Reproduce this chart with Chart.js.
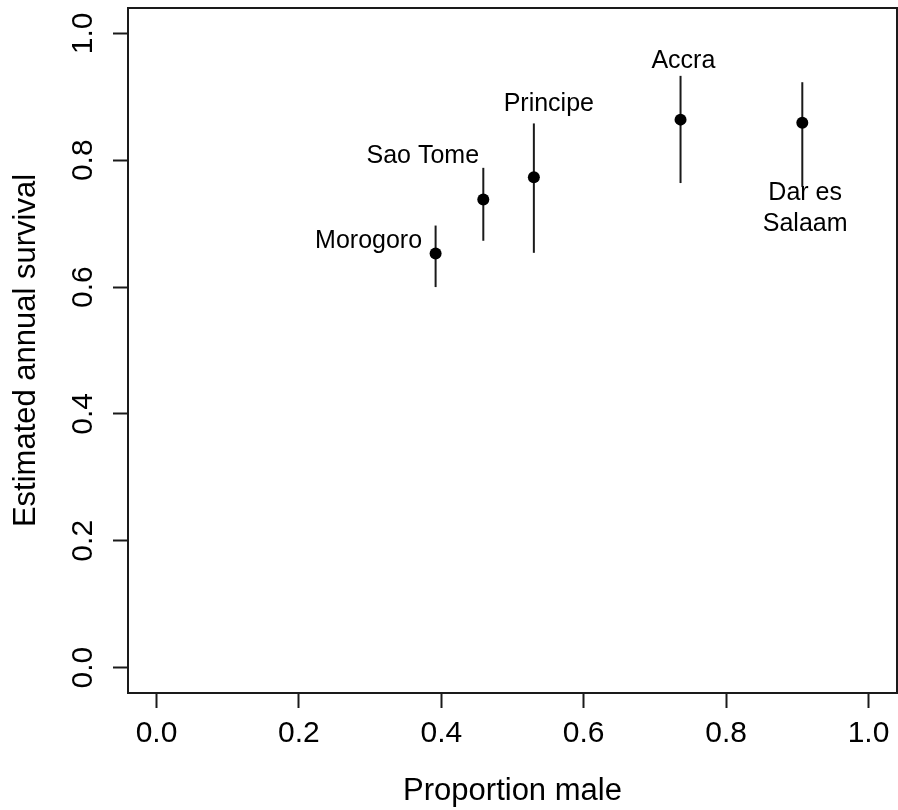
<!DOCTYPE html>
<html lang="en">
<head>
<meta charset="UTF-8">
<title>Survival vs proportion male</title>
<script src="https://cdn.jsdelivr.net/npm/chart.js"></script>
<style>
    body { margin: 0; background: #fff; }
    .chart-box { width: 898px; height: 810px; position: relative; }
</style>
</head>
<body>
<div class="chart-box">
    <canvas id="survivalChart"></canvas>
</div>
<script>
// data
const sites = ['Morogoro', 'Sao Tome', 'Principe', 'Accra', 'Dar es\nSalaam'];
const propMale = [0.392, 0.459, 0.530, 0.736, 0.907];
const survival = [0.653, 0.738, 0.773, 0.864, 0.859];
const survLow = [0.600, 0.673, 0.654, 0.764, 0.758];
const survHigh = [0.697, 0.788, 0.858, 0.933, 0.923];

// where each site name sits, in data units
const labelX = [0.373, 0.453, 0.551, 0.740, 0.911];
const labelY = [0.673, 0.807, 0.889, 0.957, 0.724];
const labelAlign = ['right', 'right', 'center', 'center', 'center'];

const xTicks = [0.0, 0.2, 0.4, 0.6, 0.8, 1.0];
const yTicks = [0.0, 0.2, 0.4, 0.6, 0.8, 1.0];

const FONT = '"Liberation Sans", Arial, Helvetica, sans-serif';
const INK = '#1a1a1a';

// one little line dataset per error bar
const errorBars = sites.map((s, i) => ({
    type: 'line',
    data: [{ x: propMale[i], y: survLow[i] }, { x: propMale[i], y: survHigh[i] }],
    borderColor: INK,
    borderWidth: 2,
    pointRadius: 0,
    showLine: true,
    order: 2
}));

const labelsAndFrame = {
    id: 'labelsAndFrame',
    afterDatasetsDraw(chart) {
        const ctx = chart.ctx;
        const a = chart.chartArea;
        const xs = chart.scales.x;
        const ys = chart.scales.y;
        ctx.save();

        // box round the plot, like R's box()
        ctx.strokeStyle = INK;
        ctx.lineWidth = 2;
        ctx.strokeRect(a.left, a.top, a.right - a.left, a.bottom - a.top);

        // site names
        ctx.fillStyle = '#000';
        ctx.font = '25px ' + FONT;
        ctx.textBaseline = 'middle';
        sites.forEach((name, i) => {
            const lines = name.split('\n');
            const lh = 30.6;
            const px = xs.getPixelForValue(labelX[i]);
            const py = ys.getPixelForValue(labelY[i]) - (lines.length - 1) * lh / 2;
            ctx.textAlign = labelAlign[i];
            lines.forEach((ln, j) => ctx.fillText(ln, px, py + j * lh));
        });

        // y tick labels, turned like R's las=0
        ctx.font = '30px ' + FONT;
        ctx.textAlign = 'center';
        ctx.textBaseline = 'alphabetic';
        ys.ticks.forEach(t => {
            ctx.save();
            ctx.translate(92, ys.getPixelForValue(t.value));
            ctx.rotate(-Math.PI / 2);
            ctx.fillText(t.value.toFixed(1), 0, 0);
            ctx.restore();
        });

        // axis titles
        ctx.font = '31px ' + FONT;
        ctx.fillText('Proportion male', (a.left + a.right) / 2, 800);
        ctx.save();
        ctx.translate(35, (a.top + a.bottom) / 2);
        ctx.rotate(-Math.PI / 2);
        ctx.fillText('Estimated annual survival', 0, 0);
        ctx.restore();

        ctx.restore();
    }
};

const axisGrid = {
    display: true,
    drawOnChartArea: false,
    drawTicks: true,
    tickLength: 15,
    tickWidth: 2,
    tickColor: INK
};

new Chart(document.getElementById('survivalChart'), {
    type: 'scatter',
    data: {
        datasets: [{
            data: propMale.map((x, i) => ({ x: x, y: survival[i] })),
            backgroundColor: '#000',
            borderWidth: 0,
            pointRadius: 6,
            order: 1
        }].concat(errorBars)
    },
    options: {
        responsive: true,
        maintainAspectRatio: false,
        animation: false,
        layout: {
            autoPadding: false,
            padding: { top: 8, right: 1, left: 0, bottom: 0 }
        },
        plugins: {
            legend: { display: false },
            tooltip: { enabled: false }
        },
        scales: {
            x: {
                type: 'linear',
                min: -0.04,
                max: 1.04,
                afterBuildTicks: s => { s.ticks = xTicks.map(v => ({ value: v })); },
                afterFit: s => {
                    s.height = 117;
                    s.paddingLeft = 0;
                    s.paddingRight = 0;
                },
                grid: axisGrid,
                border: { display: true, color: INK, width: 2 },
                ticks: {
                    color: '#000',
                    padding: 8,
                    font: { family: FONT, size: 30 },
                    callback: v => v.toFixed(1)
                }
            },
            y: {
                type: 'linear',
                min: -0.04,
                max: 1.04,
                afterBuildTicks: s => { s.ticks = yTicks.map(v => ({ value: v })); },
                afterFit: s => {
                    s.width = 128;
                    s.paddingTop = 0;
                    s.paddingBottom = 0;
                },
                grid: axisGrid,
                border: { display: true, color: INK, width: 2 },
                ticks: { display: false }
            }
        }
    },
    plugins: [labelsAndFrame]
});
</script>
</body>
</html>
